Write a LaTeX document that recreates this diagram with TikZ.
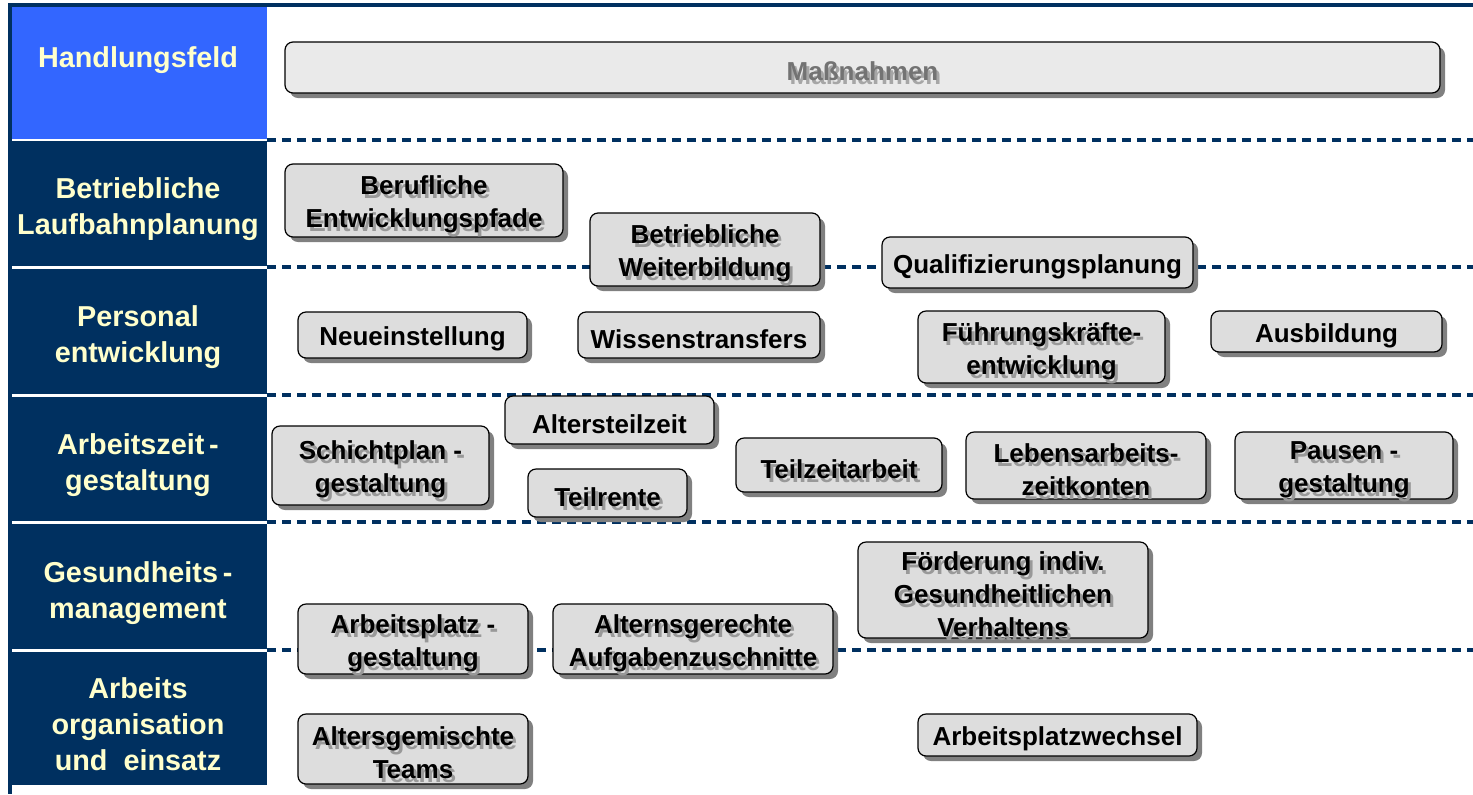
\documentclass[tikz,border=0pt]{standalone}
\usepackage{fontspec}
\setmainfont{Liberation Sans}
\usepackage{tikz}
\usetikzlibrary{fit, shadows}

\definecolor{navy}{HTML}{003060}
\definecolor{headblue}{HTML}{3366FF}
\definecolor{paleyellow}{HTML}{FFFFCC}
\definecolor{boxgray}{HTML}{DDDDDD}
\definecolor{headgray}{HTML}{EAEAEA}

\newcommand{\fieldfont}{\fontsize{14.4}{18}\selectfont\bfseries}
\newcommand{\boxfont}{\fontsize{13}{16.5}\selectfont\bfseries}

\begin{document}
\begin{tikzpicture}[x=0.5pt, y=-0.5pt,
    field/.style={fill=navy, inner sep=0pt},
    fieldlabel/.style={text=paleyellow, font=\fieldfont, align=center},
    mbox/.style={draw=black, fill=boxgray, rounded corners=4pt, inner sep=0pt, line width=0.6pt,
        drop shadow={shadow xshift=2.5pt, shadow yshift=-2.5pt, fill=black!50, opacity=1}},
    mlabel/.style={font=\boxfont, align=center, text=black, yshift=-2pt},
    mshade/.style={font=\boxfont, align=center, text=black!40, yshift=-2pt},
    rowline/.style={draw=navy, line width=1.6pt, dash pattern=on 4.5pt off 3pt}]
    \useasboundingbox (0,0) rectangle (1473,794);

    \coordinate (tl) at (10,5);
    \coordinate (tr) at (1473,5);
    \coordinate (bl) at (10,794);
    \draw[navy, line width=1.8pt] (tr) -- (tl) -- (bl);

    \node[fill=headblue, inner sep=0pt, fit={(12,7) (267,139)}] (head) {};
    \node[field, fit={(12,141) (267,266)}] (lauf) {};
    \node[field, fit={(12,269) (267,394)}] (pers) {};
    \node[field, fit={(12,397) (267,521)}] (zeit) {};
    \node[field, fit={(12,524) (267,649)}] (ges) {};
    \node[field, fit={(12,652) (267,785)}] (org) {};

    \node[fieldlabel] (headtxt) at (138,60) {Handlungsfeld};
    \node[fieldlabel] (lauftxt) at (138,209) {Betriebliche\\Laufbahnplanung};
    \node[fieldlabel] (perstxt) at (138,337) {Personal\\entwicklung};
    \node[fieldlabel] (zeittxt) at (138,465) {Arbeitszeit\,-\\gestaltung};
    \node[fieldlabel] (gestxt) at (138,593) {Gesundheits\,-\\management};
    \node[fieldlabel] (orgtxt) at (138,724) {Arbeits\\organisation\\und\ \ einsatz};

    \foreach \y/\n in {140/a, 267/b, 395/c, 522/d, 650/e} {
        \coordinate (l\n) at (267,\y);
        \coordinate (r\n) at (1473,\y);
        \draw[rowline] (l\n) -- (r\n);
    }

    \node[mbox, fill=headgray, fit={(285,42) (1440,93)}] (mass) {};
    \node[mshade, text=black!35] at ([shift={(3,4)}]mass.center) {Maßnahmen};
    \node[mlabel, text=black!55] at (mass.center) {Maßnahmen};

    \node[mbox, fit={(285,164) (563,237)}] (pfad) {};
    \node[mshade] at ([shift={(3,4)}]pfad.center) {Berufliche\\Entwicklungspfade};
    \node[mlabel] at (pfad.center) {Berufliche\\Entwicklungspfade};

    \node[mbox, fit={(590,213) (820,286)}] (weiter) {};
    \node[mshade] at ([shift={(3,4)}]weiter.center) {Betriebliche\\Weiterbildung};
    \node[mlabel] at (weiter.center) {Betriebliche\\Weiterbildung};

    \node[mbox, fit={(882,237) (1193,288)}] (quali) {};
    \node[mlabel] at (quali.center) {Qualifizierungsplanung};

    \node[mbox, fit={(298,312) (527,358)}] (neu) {};
    \node[mlabel] at (neu.center) {Neueinstellung};

    \node[mbox, fit={(578,312) (820,358)}] (wissen) {};
    \node[mlabel] at (wissen.center) {Wissenstransfers};

    \node[mbox, fit={(918,311) (1165,383)}] (fuehr) {};
    \node[mshade] at ([shift={(3,4)}]fuehr.center) {Führungskräfte-\\entwicklung};
    \node[mlabel] at (fuehr.center) {Führungskräfte-\\entwicklung};

    \node[mbox, fit={(1211,311) (1442,352)}] (ausb) {};
    \node[mlabel] at (ausb.center) {Ausbildung};

    \node[mbox, fit={(505,396) (714,444)}] (altz) {};
    \node[mlabel] at (altz.center) {Altersteilzeit};

    \node[mbox, fit={(272,426) (489,505)}] (schicht) {};
    \node[mshade] at ([shift={(3,4)}]schicht.center) {Schichtplan -\\gestaltung};
    \node[mlabel] at (schicht.center) {Schichtplan -\\gestaltung};

    \node[mbox, fit={(528,469) (687,517)}] (rente) {};
    \node[mshade] at ([shift={(3,4)}]rente.center) {Teilrente};
    \node[mlabel] at (rente.center) {Teilrente};

    \node[mbox, fit={(736,438) (942,492)}] (teilz) {};
    \node[mshade] at ([shift={(3,4)}]teilz.center) {Teilzeitarbeit};
    \node[mlabel] at (teilz.center) {Teilzeitarbeit};

    \node[mbox, fit={(966,432) (1206,499)}] (leben) {};
    \node[mshade] at ([shift={(3,4)}]leben.center) {Lebensarbeits-\\zeitkonten};
    \node[mlabel] at (leben.center) {Lebensarbeits-\\zeitkonten};

    \node[mbox, fit={(1235,432) (1453,499)}] (pause) {};
    \node[mshade] at ([shift={(3,4)}]pause.center) {Pausen -\\gestaltung};
    \node[mlabel] at (pause.center) {Pausen -\\gestaltung};

    \node[mbox, fit={(858,542) (1148,638)}] (foerd) {};
    \node[mshade] at ([shift={(3,4)}]foerd.center) {Förderung indiv.\\Gesundheitlichen\\Verhaltens};
    \node[mlabel] at (foerd.center) {Förderung indiv.\\Gesundheitlichen\\Verhaltens};

    \node[mbox, fit={(298,604) (528,674)}] (platz) {};
    \node[mshade] at ([shift={(3,4)}]platz.center) {Arbeitsplatz -\\gestaltung};
    \node[mlabel] at (platz.center) {Arbeitsplatz -\\gestaltung};

    \node[mbox, fit={(553,604) (833,674)}] (aufg) {};
    \node[mshade] at ([shift={(3,4)}]aufg.center) {Alternsgerechte\\Aufgabenzuschnitte};
    \node[mlabel] at (aufg.center) {Alternsgerechte\\Aufgabenzuschnitte};

    \node[mbox, fit={(298,714) (528,784)}] (teams) {};
    \node[mshade] at ([shift={(3,4)}]teams.center) {Altersgemischte\\Teams};
    \node[mlabel] at (teams.center) {Altersgemischte\\Teams};

    \node[mbox, fit={(918,714) (1197,756)}] (wechsel) {};
    \node[mlabel] at (wechsel.center) {Arbeitsplatzwechsel};
\end{tikzpicture}
\end{document}
